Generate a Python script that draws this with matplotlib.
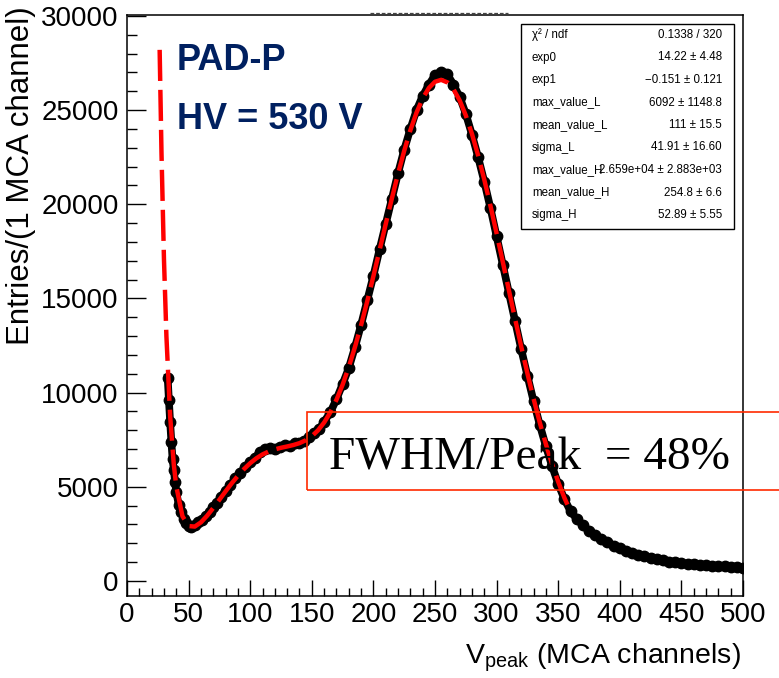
import matplotlib
matplotlib.use('Agg')
from matplotlib import pyplot as plt
import matplotlib.ticker as ticker
from matplotlib.patches import Rectangle
from matplotlib.lines import Line2D

SANS = ['Liberation Sans', 'DejaVu Sans']
plt.rcParams['font.family'] = SANS

# ============================== Data =============================== #
# histogram points (channel, entries)
data_x = [33, 34, 35, 36, 37, 38, 39, 40, 42, 44, 46, 48, 50, 52, 55, 58,
          61, 64, 67, 70, 73, 76, 80, 84, 88, 92, 96, 100, 104, 108, 112,
          116, 120, 124, 128, 132, 136, 140, 144, 148, 152, 156, 160, 165,
          170, 175, 180, 185, 190, 195, 200, 205, 210, 215, 220, 225, 230,
          235, 240, 245, 250, 255, 260, 265, 270, 275, 280, 285, 290, 295,
          300, 305, 310, 315, 320, 325, 330, 335, 340, 345, 350, 355, 360,
          365, 370, 375, 380, 385, 390, 395, 400, 405, 410, 415, 420, 425,
          430, 435, 440, 445, 450, 455, 460, 465, 470, 475, 480, 485, 490,
          495, 500]
data_y = [10800, 9600, 8450, 7400, 6450, 5900, 5250, 4700, 4050, 3650, 3300,
          3050, 2920, 2870, 2950, 3150, 3250, 3450, 3650, 3900, 4150, 4450,
          4800, 5100, 5450, 5750, 6050, 6300, 6550, 6850, 7000, 7050, 7000,
          7100, 7200, 7150, 7300, 7350, 7450, 7650, 7850, 8050, 8450, 8950,
          9650, 10450, 11300, 12400, 13600, 14900, 16200, 17600, 18950,
          20300, 21650, 22900, 24000, 25000, 25750, 26350, 26850, 27000,
          26900, 26350, 25700, 24800, 23700, 22500, 21200, 19800, 18300,
          16800, 15300, 13800, 12300, 10900, 9550, 8300, 7150, 6100, 5150,
          4350, 3700, 3300, 2950, 2650, 2420, 2220, 2050, 1880, 1740, 1610,
          1490, 1390, 1300, 1220, 1150, 1090, 1030, 980, 940, 910, 880, 860,
          840, 810, 790, 770, 750, 720, 690]

# fitted curve (exp + two gaussians)
fit_x = [26.5, 28, 30, 32, 35, 38, 40, 45, 50, 55, 60, 65, 70, 75, 80, 85,
         90, 95, 100, 105, 110, 115, 120, 125, 130, 135, 140, 145, 150, 155,
         160, 165, 170, 175, 180, 185, 190, 195, 200, 205, 210, 215, 220,
         225, 230, 235, 240, 245, 250, 255, 260, 265, 270, 275, 280, 285,
         290, 295, 300, 305, 310, 315, 320, 325, 330, 335, 340, 345, 350,
         355, 360]
fit_y = [28200, 22710, 17090, 12980, 8770, 6165, 5020, 3440, 2916, 2886,
         3109, 3459, 3873, 4313, 4756, 5184, 5582, 5942, 6253, 6512, 6718,
         6872, 6986, 7070, 7140, 7216, 7316, 7466, 7684, 7994, 8411, 8947,
         9616, 10418, 11353, 12413, 13584, 14850, 16183, 17561, 18950, 20313,
         21620, 22838, 23930, 24867, 25623, 26174, 26506, 26607, 26473,
         26108, 25517, 24720, 23737, 22591, 21307, 19921, 18454, 16948,
         15425, 13912, 12439, 11022, 9676, 8421, 7264, 6211, 5262, 4419, 3677]

stat_names = ['χ² / ndf', 'exp0', 'exp1', 'max_value_L', 'mean_value_L',
              'sigma_L', 'max_value_H', 'mean_value_H', 'sigma_H']
stat_values = ['0.1338 / 320', '14.22 ± 4.48', '−0.151 ± 0.121',
               '6092 ± 1148.8', '111 ± 15.5', '41.91 ± 16.60',
               '2.659e+04 ± 2.883e+03', '254.8 ± 6.6', '52.89 ± 5.55']

x_title = r'$\mathregular{V_{peak}}$ (MCA channels)'
y_title = 'Entries/(1 MCA channel)'
# =================================================================== #

W, H = 779, 678
fig = plt.figure(figsize=(W / 100, H / 100), dpi=100)
ax = fig.add_axes([127 / W, 1 - 596 / H, (743 - 127) / W, (596 - 15) / H])

ax.plot(data_x, data_y, color='black', lw=5.5, marker='o', ms=7.5, zorder=2)
ax.plot(fit_x, fit_y, color='red', lw=3.2, dashes=(7, 2), zorder=3)

ax.set_xlim(0, 500)
ax.set_ylim(-800, 30050)
ax.xaxis.set_major_locator(ticker.MultipleLocator(50))
ax.xaxis.set_minor_locator(ticker.MultipleLocator(10))
ax.yaxis.set_major_locator(ticker.MultipleLocator(5000))
ax.yaxis.set_minor_locator(ticker.MultipleLocator(1000))
ax.tick_params(which='both', direction='in', width=1, labelsize=20)
ax.tick_params(axis='x', which='major', length=11.5, pad=4)
ax.tick_params(axis='x', which='minor', length=6)
ax.tick_params(axis='y', which='major', length=14, pad=6)
ax.tick_params(axis='y', which='minor', length=7)
for s in ax.spines.values():
    s.set_linewidth(1.1)

# axis titles (ROOT style, at the ends of the axes)
fig.text(741 / W, 1 - 664 / H, x_title, ha='right', va='baseline', fontsize=20.5)
fig.text(21 / W, 1 - 6 / H, y_title, rotation=90, ha='center', va='top',
         fontsize=22.5)

# stats box
fig.add_artist(Rectangle((521 / W, 1 - 229 / H), (734 - 521) / W, (229 - 24) / H,
                         transform=fig.transFigure, facecolor='white',
                         edgecolor='black', lw=1, zorder=5))
for i, (name, val) in enumerate(zip(stat_names, stat_values)):
    yy = 1 - (35 + i * 22.5) / H
    fig.text(532 / W, yy, name, ha='left', va='center', fontsize=8.3, zorder=6)
    fig.text(722 / W, yy, val, ha='right', va='center', fontsize=8.3, zorder=6)

# dashed leftover line above the frame
fig.add_artist(Line2D([370 / W, 508 / W], [1 - 12.5 / H, 1 - 12.5 / H],
                      transform=fig.transFigure, color='#444444', lw=0.9,
                      dashes=(3, 1.5)))

# annotations
fig.text(177 / W, 1 - 70 / H, 'PAD-P', color='#002060', fontsize=26,
         fontweight='bold', ha='left', va='baseline')
fig.text(177 / W, 1 - 129 / H, 'HV = 530 V', color='#002060', fontsize=26,
         fontweight='bold', ha='left', va='baseline')

fig.add_artist(Rectangle((307 / W, 1 - 490 / H), 0.7, (490 - 412) / H,
                         transform=fig.transFigure, fill=False,
                         edgecolor='#ff2a00', lw=1.2, zorder=5))
fig.text(329 / W, 1 - 469 / H, 'FWHM/Peak  = 48%', fontsize=34,
         family=['Liberation Serif', 'DejaVu Serif'], ha='left',
         va='baseline', zorder=6)

plt.savefig('out.png', dpi=100)
